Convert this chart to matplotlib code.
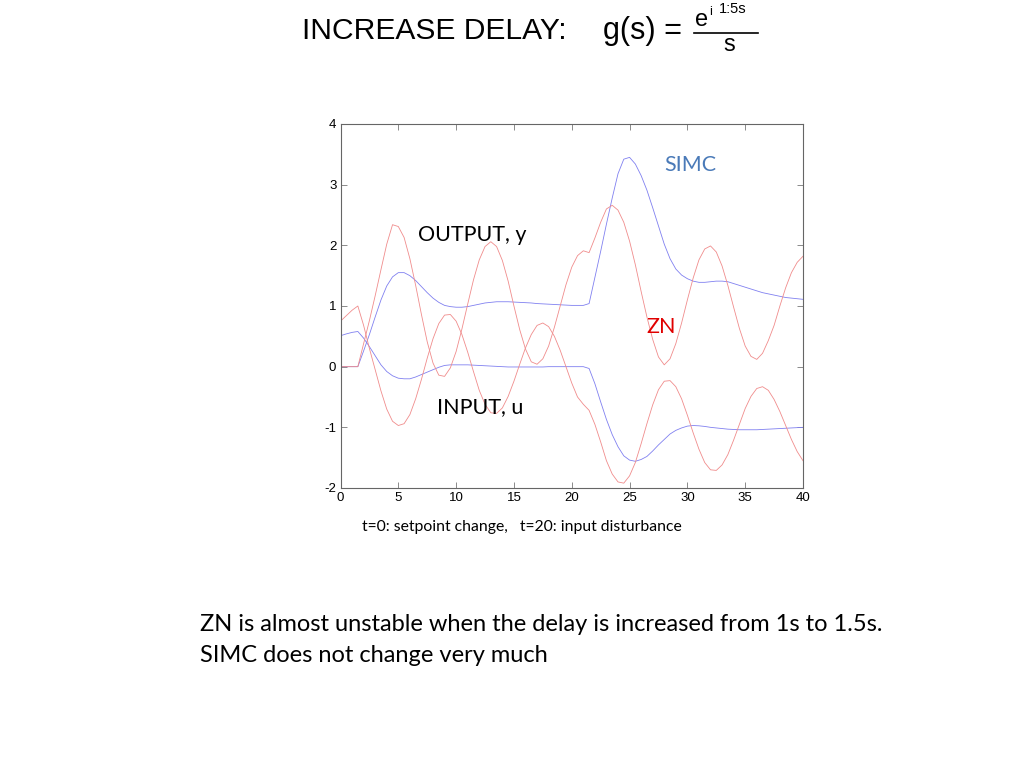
import numpy as np
import matplotlib
matplotlib.use("Agg")
import matplotlib.pyplot as plt
from matplotlib.lines import Line2D

# ---------------- data ----------------
t = np.arange(0, 40.5, 0.5)

zn_y = [0, 0, 0, 0.0, 0.38, 0.76, 1.17, 1.6, 2.02, 2.34, 2.31, 2.13, 1.78, 1.34,
        0.86, 0.41, 0.06, -0.14, -0.16, -0.02, 0.25, 0.62, 1.03, 1.43, 1.76, 1.98,
        2.06, 1.98, 1.75, 1.41, 1.0, 0.61, 0.29, 0.08, 0.04, 0.13, 0.34, 0.65, 1.0,
        1.35, 1.64, 1.83, 1.91, 1.88, 2.12, 2.38, 2.6, 2.66, 2.58, 2.38, 2.07, 1.68,
        1.24, 0.82, 0.45, 0.16, 0.03, 0.13, 0.38, 0.72, 1.1, 1.46, 1.76, 1.94, 1.99,
        1.89, 1.66, 1.34, 0.98, 0.63, 0.34, 0.17, 0.12, 0.22, 0.43, 0.68, 1.0, 1.3,
        1.55, 1.72, 1.82]

zn_u = [0.75, 0.84, 0.93, 1.0, 0.68, 0.3, -0.05, -0.4, -0.7, -0.9, -0.97, -0.94,
        -0.79, -0.53, -0.21, 0.14, 0.46, 0.71, 0.85, 0.86, 0.75, 0.53, 0.24, -0.08,
        -0.39, -0.62, -0.76, -0.77, -0.68, -0.49, -0.24, 0.04, 0.31, 0.53, 0.68, 0.72,
        0.66, 0.5, 0.27, 0.0, -0.27, -0.5, -0.62, -0.72, -0.95, -1.24, -1.55, -1.77,
        -1.9, -1.92, -1.8, -1.58, -1.27, -0.94, -0.63, -0.38, -0.24, -0.23, -0.33,
        -0.53, -0.8, -1.09, -1.36, -1.58, -1.7, -1.71, -1.62, -1.45, -1.21, -0.95,
        -0.69, -0.49, -0.36, -0.33, -0.39, -0.54, -0.74, -0.97, -1.2, -1.4, -1.55]

simc_y = [0, 0, 0, 0.0, 0.26, 0.53, 0.82, 1.1, 1.33, 1.48, 1.55, 1.55, 1.5, 1.42,
          1.32, 1.22, 1.13, 1.06, 1.01, 0.99, 0.98, 0.98, 0.99, 1.01, 1.03, 1.05,
          1.06, 1.07, 1.07, 1.07, 1.065, 1.06, 1.055, 1.05, 1.04, 1.035, 1.03, 1.025,
          1.02, 1.015, 1.01, 1.01, 1.01, 1.04, 1.47, 1.9, 2.35, 2.78, 3.18, 3.42,
          3.45, 3.34, 3.15, 2.91, 2.62, 2.32, 2.02, 1.78, 1.61, 1.51, 1.45, 1.41,
          1.39, 1.39, 1.4, 1.41, 1.41, 1.4, 1.37, 1.34, 1.31, 1.28, 1.25, 1.22, 1.2,
          1.18, 1.16, 1.14, 1.13, 1.12, 1.11]

simc_u = [0.51, 0.54, 0.565, 0.58, 0.47, 0.33, 0.18, 0.03, -0.08, -0.15, -0.19,
          -0.2, -0.2, -0.17, -0.13, -0.09, -0.05, -0.01, 0.02, 0.03, 0.03, 0.03,
          0.03, 0.025, 0.02, 0.015, 0.01, 0.005, 0.0, -0.005, -0.005, -0.005, -0.005,
          -0.005, -0.005, -0.005, 0.0, 0.0, 0.0, 0.0, 0.0, 0.0, 0.0, -0.03, -0.28,
          -0.58, -0.87, -1.12, -1.32, -1.47, -1.54, -1.56, -1.53, -1.48, -1.39, -1.29,
          -1.2, -1.11, -1.05, -1.01, -0.98, -0.97, -0.975, -0.985, -1.0, -1.01, -1.02,
          -1.03, -1.035, -1.04, -1.04, -1.04, -1.04, -1.035, -1.03, -1.025, -1.02,
          -1.015, -1.01, -1.005, -1.0]

x_ticks = [0, 5, 10, 15, 20, 25, 30, 35, 40]
y_ticks = [-2, -1, 0, 1, 2, 3, 4]

# ---------------- layout helpers ----------------
W, H = 1024, 768
def fx(x): return x / W
def fy(y): return 1 - y / H

fig = plt.figure(figsize=(10.24, 7.68), dpi=100)
fig.patch.set_facecolor("white")

ax = fig.add_axes([fx(340.5), fy(488), (803 - 340.5) / W, (488 - 124) / H])
blue = "#8080f0"
red = "#f08c8c"
ax.plot(t, simc_y, color=blue, lw=0.6)
ax.plot(t, simc_u, color=blue, lw=0.6)
ax.plot(t, zn_y, color=red, lw=0.6)
ax.plot(t, zn_u, color=red, lw=0.6)

ax.set_xlim(0, 40)
ax.set_ylim(-2, 4)
ax.set_xticks(x_ticks)
ax.set_yticks(y_ticks)
ax.set_xticklabels([str(v) for v in x_ticks], fontsize=9.5, family="Liberation Sans")
ax.set_yticklabels([str(v) for v in y_ticks], fontsize=9.5, family="Liberation Sans")
ax.tick_params(direction="in", length=4, width=0.6, color="#777777",
               top=True, right=True, pad=3)
for s in ax.spines.values():
    s.set_color("#666666")
    s.set_linewidth(0.8)

calib = "Lato"
# in-plot labels
fig.text(fx(418), fy(241), "OUTPUT, y", fontsize=15.5, family=calib, va="baseline")
fig.text(fx(437), fy(413), "INPUT, u", fontsize=15.5, family=calib, va="baseline")
fig.text(fx(664), fy(171), "SIMC", fontsize=15.5, family=calib, va="baseline", color="#4a7ab8")
fig.text(fx(646), fy(333), "ZN", fontsize=15.5, family=calib, va="baseline", color="#e00000")

# caption
fig.text(fx(362), fy(531), "t=0: setpoint change,   t=20: input disturbance",
         fontsize=11.35, family=calib, va="baseline")

# bottom text
fig.text(fx(200), fy(631), "ZN is almost unstable when the delay is increased from 1s to 1.5s.",
         fontsize=17.0, family=calib, va="baseline")
fig.text(fx(200), fy(662), "SIMC does not change very much",
         fontsize=17.0, family=calib, va="baseline")

# title
tf = "Liberation Sans"
fig.text(fx(302), fy(39), "INCREASE DELAY:", fontsize=21.6, family=tf, va="baseline")
fig.text(fx(603), fy(39), "g(s) =", fontsize=22, family=tf, va="baseline")
fig.text(fx(695), fy(26), "e", fontsize=17, family=tf, va="baseline")
fig.text(fx(709), fy(15), "i", fontsize=9, family=tf, va="baseline")
fig.text(fx(719), fy(13), "1:5s", fontsize=10.5, family=tf, va="baseline")
fig.add_artist(Line2D([fx(694), fx(758)], [fy(33), fy(33)], color="black", lw=1.2))
fig.text(fx(729), fy(51), "s", fontsize=17, family=tf, va="baseline", ha="center")

fig.savefig("out.png", dpi=100)
